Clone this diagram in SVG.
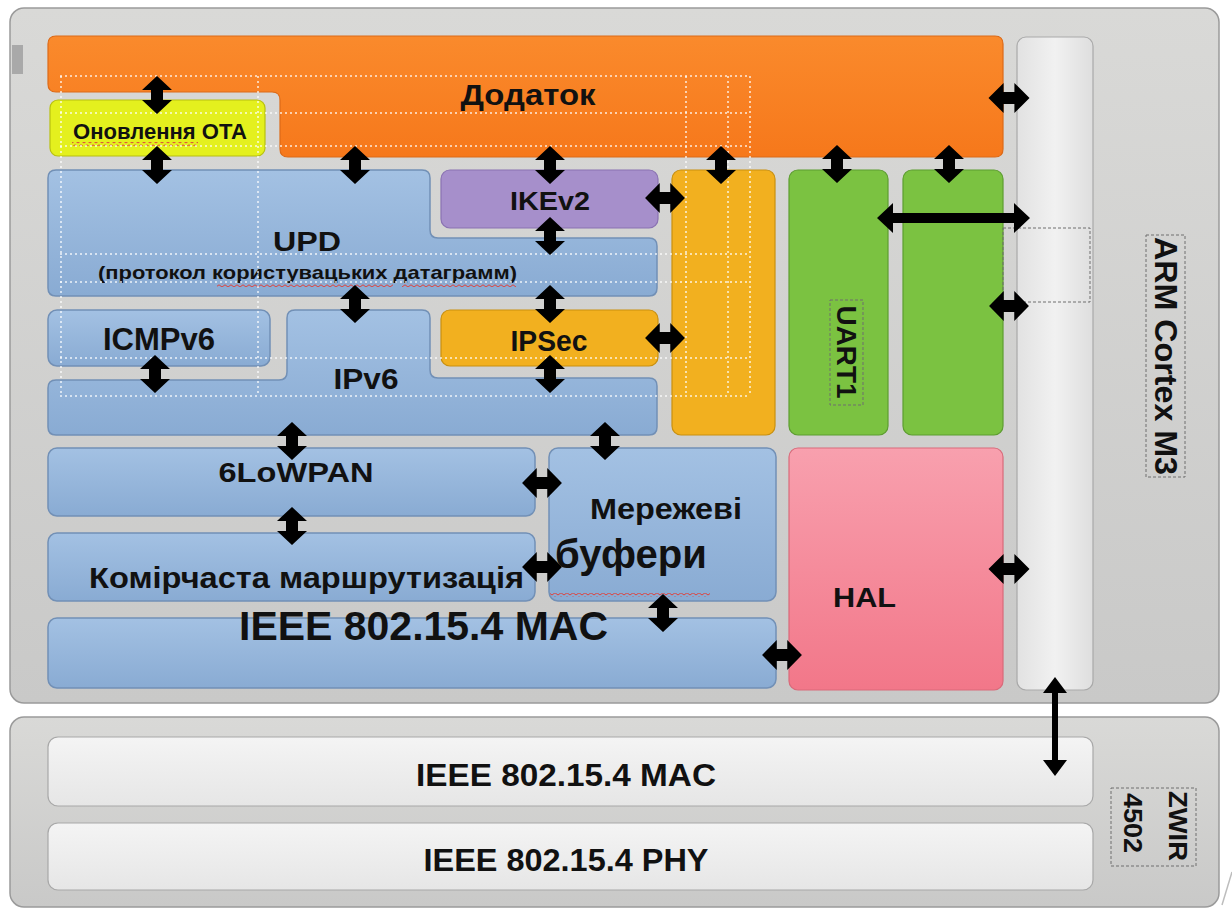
<svg xmlns="http://www.w3.org/2000/svg" width="1232" height="910" viewBox="0 0 1232 910">
<defs>
  <linearGradient id="gPanel" x1="0" y1="0" x2="0" y2="1"><stop offset="0" stop-color="#d9d9d7"/><stop offset="1" stop-color="#c9c9c8"/></linearGradient>
  <linearGradient id="gBlue" x1="0" y1="0" x2="0" y2="1"><stop offset="0" stop-color="#a3c1e3"/><stop offset="1" stop-color="#89abd3"/></linearGradient>
  <linearGradient id="gOrange" x1="0" y1="0" x2="0" y2="1"><stop offset="0" stop-color="#fa8a2c"/><stop offset="1" stop-color="#f6781b"/></linearGradient>
  <linearGradient id="gPink" x1="0" y1="0" x2="0" y2="1"><stop offset="0" stop-color="#f8a0ae"/><stop offset="1" stop-color="#f27789"/></linearGradient>
  <linearGradient id="gBar" x1="0" y1="0" x2="1" y2="0"><stop offset="0" stop-color="#e2e2e2"/><stop offset="0.5" stop-color="#f1f1f1"/><stop offset="1" stop-color="#dedede"/></linearGradient>
  <linearGradient id="gLight" x1="0" y1="0" x2="0" y2="1"><stop offset="0" stop-color="#f4f4f4"/><stop offset="1" stop-color="#e6e6e6"/></linearGradient>
  <pattern id="wave" width="6" height="4" patternUnits="userSpaceOnUse"><path d="M0,3 L3,0.8 L6,3" fill="none" stroke="#e0403a" stroke-width="1"/></pattern>
  <path id="dv" d="M0,-19 L15,-5 L6,-5 L6,5 L15,5 L0,19 L-15,5 L-6,5 L-6,-5 L-15,-5 Z"/>
</defs>
<style>
  .t{font-family:"Liberation Sans",Arial,sans-serif;font-weight:bold;fill:#111;}
  .panel{fill:url(#gPanel);stroke:#9a9a9a;stroke-width:1.5}
  .blue{fill:url(#gBlue);stroke:#7290b6;stroke-width:1.5}
  .orange{fill:url(#gOrange);stroke:#dc6a18;stroke-width:1.2}
  .amber{fill:#f2b01f;stroke:#c9900f;stroke-width:1.2}
  .green{fill:#7bc241;stroke:#5d9d30;stroke-width:1.2}
  .purple{fill:#a68fcb;stroke:#8a72b2;stroke-width:1.2}
  .yellow{fill:#e4f01e;stroke:#b8c010;stroke-width:1.2}
  .pink{fill:url(#gPink);stroke:#d96a7a;stroke-width:1.2}
  .light{fill:url(#gLight);stroke:#a8a8a8;stroke-width:1.2}
  .dot{fill:none;stroke:#ffffff;stroke-width:1.5;stroke-dasharray:2 3;opacity:.85}
  .dash{fill:none;stroke:#6e6e6e;stroke-width:1;stroke-dasharray:3 2}
  .arr{fill:#000}
</style>
<rect width="1232" height="910" fill="#ffffff"/>

<g id="cortex-panel">
  <rect class="panel" x="10" y="8" width="1209" height="695" rx="14"/>
  <rect x="12" y="45" width="11" height="29" fill="#a9a9a9"/>
</g>
<g id="zwir-panel">
  <rect class="panel" x="10" y="717" width="1209" height="190" rx="14"/>
</g>

<g id="app">
  <path class="orange" d="M56,36 H995 Q1003,36 1003,44 V149 Q1003,157 995,157 H288 Q280,157 280,149 V100 Q280,92 272,92 H56 Q48,92 48,84 V44 Q48,36 56,36 Z"/>
  <text class="t" x="528" y="105" font-size="30" text-anchor="middle" textLength="135" lengthAdjust="spacingAndGlyphs">Додаток</text>
</g>
<g id="ota">
  <rect class="yellow" x="50" y="100" width="215" height="56" rx="8"/>
  <text class="t" x="73" y="139" font-size="22" textLength="174" lengthAdjust="spacingAndGlyphs">Оновлення ОТА</text>
  <rect x="72" y="142" width="126" height="4" fill="url(#wave)"/>
</g>
<g id="upd">
  <path class="blue" d="M56,170 H422 Q430,170 430,178 V230 Q430,238 438,238 H649 Q657,238 657,246 V288 Q657,296 649,296 H56 Q48,296 48,288 V178 Q48,170 56,170 Z"/>
  <text class="t" x="307" y="251" font-size="27" text-anchor="middle" textLength="68" lengthAdjust="spacingAndGlyphs">UPD</text>
  <text class="t" x="98" y="279" font-size="19" textLength="419" lengthAdjust="spacingAndGlyphs">(протокол користувацьких датаграмм)</text>
  <rect x="217" y="283" width="176" height="4" fill="url(#wave)"/>
  <rect x="402" y="283" width="114" height="4" fill="url(#wave)"/>
</g>
<g id="ikev2">
  <rect class="purple" x="441" y="170" width="217" height="58" rx="9"/>
  <text class="t" x="550" y="210" font-size="26" text-anchor="middle" textLength="80" lengthAdjust="spacingAndGlyphs">IKEv2</text>
</g>
<g id="icmpv6">
  <rect class="blue" x="48" y="310" width="222" height="56" rx="9"/>
  <text class="t" x="159" y="350" font-size="31" text-anchor="middle" textLength="112" lengthAdjust="spacingAndGlyphs">ICMPv6</text>
</g>
<g id="ipv6">
  <path class="blue" d="M295,310 H422 Q430,310 430,318 V370 Q430,378 438,378 H649 Q657,378 657,386 V427 Q657,435 649,435 H56 Q48,435 48,427 V388 Q48,380 56,380 H279 Q287,380 287,372 V318 Q287,310 295,310 Z"/>
  <text class="t" x="366" y="389" font-size="29" text-anchor="middle" textLength="65" lengthAdjust="spacingAndGlyphs">IPv6</text>
</g>
<g id="ipsec">
  <rect class="amber" x="441" y="310" width="217" height="56" rx="9"/>
  <text class="t" x="549" y="351" font-size="29" text-anchor="middle" textLength="77" lengthAdjust="spacingAndGlyphs">IPSec</text>
</g>
<g id="crypto">
  <rect class="amber" x="672" y="170" width="103" height="265" rx="9"/>
</g>
<g id="uart1">
  <rect class="green" x="789" y="170" width="99" height="265" rx="9"/>
  <rect class="dash" x="830" y="300" width="33" height="105" stroke="#ffffff"/>
  <text class="t" transform="translate(846,352) rotate(90)" x="0" y="0" dy="0.35em" font-size="27" text-anchor="middle" textLength="93" lengthAdjust="spacingAndGlyphs">UART1</text>
</g>
<g id="io">
  <rect class="green" x="903" y="170" width="100" height="265" rx="9"/>
</g>
<g id="sixlowpan">
  <rect class="blue" x="48" y="448" width="487" height="68" rx="9"/>
  <text class="t" x="296" y="482" font-size="28" text-anchor="middle" textLength="155" lengthAdjust="spacingAndGlyphs">6LoWPAN</text>
</g>
<g id="mesh">
  <rect class="blue" x="48" y="533" width="487" height="68" rx="9"/>
  <text class="t" x="89" y="588" font-size="29" textLength="435" lengthAdjust="spacingAndGlyphs">Комірчаста маршрутизація</text>
</g>
<g id="netbuf">
  <rect class="blue" x="549" y="448" width="227" height="153" rx="9"/>
  <text class="t" x="666" y="519" font-size="29" text-anchor="middle" textLength="152" lengthAdjust="spacingAndGlyphs">Мережеві</text>
  <text class="t" x="555" y="568" font-size="40" textLength="152" lengthAdjust="spacingAndGlyphs">буфери</text>
  <rect x="550" y="593" width="160" height="4" fill="url(#wave)"/>
</g>
<g id="mac">
  <rect class="blue" x="48" y="618" width="728" height="70" rx="9"/>
  <text class="t" x="239" y="640" font-size="41" textLength="369" lengthAdjust="spacingAndGlyphs">IEEE 802.15.4 MAC</text>
</g>
<g id="hal">
  <rect class="pink" x="789" y="448" width="214" height="242" rx="9"/>
  <text class="t" x="833" y="607" font-size="28" textLength="63" lengthAdjust="spacingAndGlyphs">HAL</text>
</g>
<g id="bus">
  <rect x="1017" y="37" width="76" height="653" rx="9" fill="url(#gBar)" stroke="#a9a9a9" stroke-width="1.2"/>
  <rect class="dash" x="1003" y="228" width="87" height="74"/>
</g>
<g id="arm">
  <rect class="dash" x="1146" y="235" width="39" height="242"/>
  <text class="t" transform="translate(1166,356) rotate(90)" x="0" y="0" dy="0.35em" font-size="32" text-anchor="middle" textLength="238" lengthAdjust="spacingAndGlyphs">ARM Cortex M3</text>
</g>
<g id="zwir-mac">
  <rect class="light" x="48" y="737" width="1045" height="69" rx="10"/>
  <text class="t" x="566" y="786" font-size="31" text-anchor="middle" textLength="300" lengthAdjust="spacingAndGlyphs">IEEE 802.15.4 MAC</text>
</g>
<g id="zwir-phy">
  <rect class="light" x="48" y="823" width="1045" height="67" rx="10"/>
  <text class="t" x="566" y="871" font-size="31" text-anchor="middle" textLength="285" lengthAdjust="spacingAndGlyphs">IEEE 802.15.4 PHY</text>
</g>
<g id="zwir">
  <rect class="dash" x="1111" y="788" width="85" height="78"/>
  <text class="t" transform="translate(1178,826) rotate(90)" x="0" y="0" dy="0.35em" font-size="26" text-anchor="middle" textLength="70" lengthAdjust="spacingAndGlyphs">ZWIR</text>
  <text class="t" transform="translate(1133,823) rotate(90)" x="0" y="0" dy="0.35em" font-size="26" text-anchor="middle" textLength="60" lengthAdjust="spacingAndGlyphs">4502</text>
</g>

<g id="outlines">
  <path class="dot" d="M60,76 H750 M60,113 H750 M60,146 H750 M60,254 H750 M60,282 H750 M60,358 H750 M60,396 H750"/>
  <path class="dot" d="M61,76 V396 M258,76 V396 M686,76 V396 M728,76 V396 M750,76 V396"/>
  <path d="M1222,905 L1232,872" stroke="#bdbdbd" stroke-width="1.5" fill="none"/>
</g>

<g id="connectors" class="arr">
  <use href="#dv" transform="translate(157,95)"/>
  <use href="#dv" transform="translate(157,165)"/>
  <use href="#dv" transform="translate(355,165)"/>
  <use href="#dv" transform="translate(550,165)"/>
  <use href="#dv" transform="translate(721,165)"/>
  <use href="#dv" transform="translate(837,164)"/>
  <use href="#dv" transform="translate(949,164)"/>
  <use href="#dv" transform="translate(550,236)"/>
  <use href="#dv" transform="translate(355,304)"/>
  <use href="#dv" transform="translate(550,304)"/>
  <use href="#dv" transform="translate(155,374)"/>
  <use href="#dv" transform="translate(550,374)"/>
  <use href="#dv" transform="translate(292,441)"/>
  <use href="#dv" transform="translate(605,441)"/>
  <use href="#dv" transform="translate(292,526)"/>
  <use href="#dv" transform="translate(663,613)"/>
  <use href="#dv" transform="translate(1009,98) rotate(90) scale(1,1.08)"/>
  <use href="#dv" transform="translate(665,198) rotate(90) scale(1,1.05)"/>
  <use href="#dv" transform="translate(665,338) rotate(90) scale(1,1.05)"/>
  <use href="#dv" transform="translate(1009,306) rotate(90) scale(1,1.05)"/>
  <use href="#dv" transform="translate(542,483) rotate(90) scale(1,1.05)"/>
  <use href="#dv" transform="translate(542,567) rotate(90) scale(1,1.05)"/>
  <use href="#dv" transform="translate(782,655) rotate(90) scale(1,1.05)"/>
  <use href="#dv" transform="translate(1009,569) rotate(90) scale(1,1.08)"/>
  <path d="M877,218 L893,203 L893,213 L1014,213 L1014,203 L1030,218 L1014,233 L1014,223 L893,223 L893,233 Z"/>
  <path d="M1055,677 L1067,693 L1058,693 L1058,760 L1067,760 L1055,776 L1043,760 L1052,760 L1052,693 L1043,693 Z"/>
</g>
</svg>
